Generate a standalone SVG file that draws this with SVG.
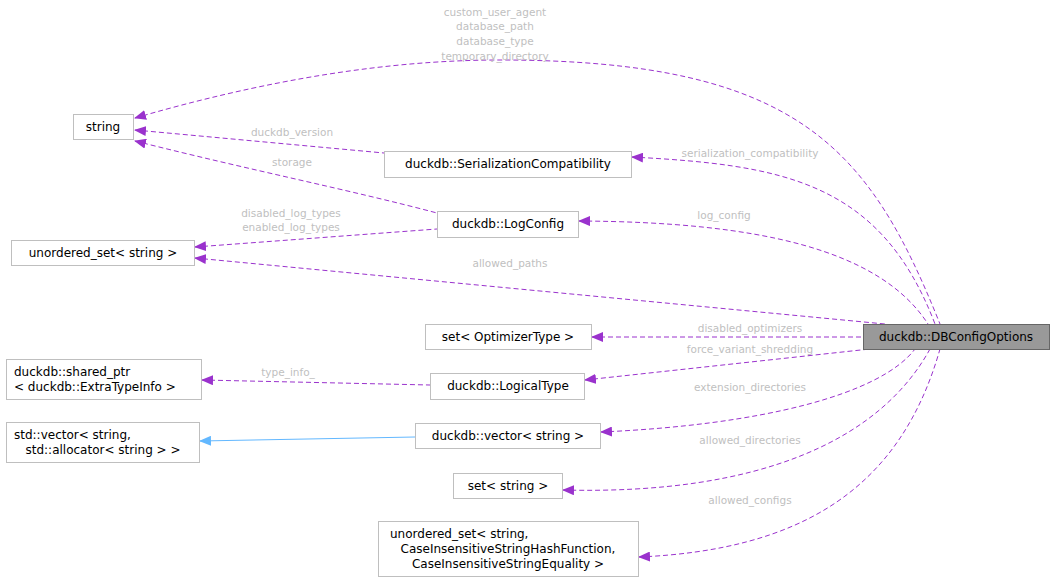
<svg xmlns="http://www.w3.org/2000/svg" width="1055" height="582" viewBox="0 0 1055 582">
<style>
.n rect{fill:#fff;stroke:#bfbfbf;stroke-width:1}
text{font-family:"DejaVu Sans","Liberation Sans",sans-serif;font-size:12px}
.n text{fill:#000;text-anchor:middle}
.l{fill:#bfbfbf;text-anchor:middle;font-size:12px}
.e{fill:none;stroke:#9a32cd;stroke-dasharray:5,3;marker-start:url(#a)}
.b{fill:none;stroke:#63b8ff;marker-start:url(#ab)}
</style>
<defs>
<marker id="a" markerWidth="12" markerHeight="10" refX="1" refY="5" orient="auto" markerUnits="userSpaceOnUse"><path d="M0,5 L12,0 L12,10 Z" fill="#9a32cd"/></marker>
<marker id="ab" markerWidth="12" markerHeight="10" refX="1" refY="5" orient="auto" markerUnits="userSpaceOnUse"><path d="M0,5 L12,0 L12,10 Z" fill="#63b8ff"/></marker>
</defs>
<rect width="1055" height="582" fill="#fff"/>
<g id="edges">
<path class="e" d="M135,118 C300,70 420,60 500,60 C800,60 870,150 940,324"/>
<path class="e" d="M135,130 L384,153"/>
<path class="e" d="M135,141 C250,170 350,190 437,213"/>
<path class="e" d="M195,247 L437,229"/>
<path class="e" d="M632,157 C780,165 880,180 935,324"/>
<path class="e" d="M579,221 C760,222 880,250 928,324"/>
<path class="e" d="M195,258 L885,324"/>
<path class="e" d="M592,337 L863,337"/>
<path class="e" d="M585,380 L870,349"/>
<path class="e" d="M202,380 L430,385"/>
<path class="b" d="M200,441 L415,437"/>
<path class="e" d="M601,432 C760,425 880,395 915,349"/>
<path class="e" d="M563,490 C760,495 880,440 930,349"/>
<path class="e" d="M639,557 C800,550 900,490 940,349"/>
<g style="font-size:10.5px">
<text class="l" x="495" y="16" style="font-size:10.5px">custom_user_agent</text>
<text class="l" x="495" y="30" style="font-size:10.5px">database_path</text>
<text class="l" x="495" y="45" style="font-size:10.5px">database_type</text>
<text class="l" x="495" y="60" style="font-size:10.5px">temporary_directory</text>
<text class="l" x="292" y="136" style="font-size:10.5px">duckdb_version</text>
<text class="l" x="292" y="166" style="font-size:10.5px">storage</text>
<text class="l" x="291" y="217" style="font-size:10.5px">disabled_log_types</text>
<text class="l" x="291" y="231" style="font-size:10.5px">enabled_log_types</text>
<text class="l" x="750" y="157" style="font-size:10.5px">serialization_compatibility</text>
<text class="l" x="724" y="219" style="font-size:10.5px">log_config</text>
<text class="l" x="510" y="267" style="font-size:10.5px">allowed_paths</text>
<text class="l" x="750" y="332" style="font-size:10.5px">disabled_optimizers</text>
<text class="l" x="750" y="353" style="font-size:10.5px">force_variant_shredding</text>
<text class="l" x="288" y="376" style="font-size:10.5px">type_info_</text>
<text class="l" x="750" y="391" style="font-size:10.5px">extension_directories</text>
<text class="l" x="750" y="444" style="font-size:10.5px">allowed_directories</text>
<text class="l" x="750" y="504" style="font-size:10.5px">allowed_configs</text>
</g>
</g>
<g id="string" class="n"><rect x="73.5" y="114.5" width="60" height="25"/><text x="103" y="131">string</text></g>
<g id="sercompat" class="n"><rect x="384.5" y="151.5" width="247" height="26"/><text x="508" y="168">duckdb::SerializationCompatibility</text></g>
<g id="logconfig" class="n"><rect x="437.5" y="211.5" width="141" height="26"/><text x="508" y="228">duckdb::LogConfig</text></g>
<g id="uset" class="n"><rect x="11.5" y="240.5" width="183" height="25"/><text x="103" y="257">unordered_set&lt; string &gt;</text></g>
<g id="setopt" class="n"><rect x="425.5" y="324.5" width="166" height="25"/><text x="508" y="341">set&lt; OptimizerType &gt;</text></g>
<g id="dbconfig" class="n"><rect x="863.5" y="324.5" width="186" height="25" style="fill:#999;stroke:#666"/><text x="956" y="341">duckdb::DBConfigOptions</text></g>
<g id="sharedptr" class="n"><rect x="6.5" y="359.5" width="195" height="40"/><text x="14" y="376" style="text-anchor:start">duckdb::shared_ptr</text><text x="14" y="391" style="text-anchor:start">&lt; duckdb::ExtraTypeInfo &gt;</text></g>
<g id="logicaltype" class="n"><rect x="430.5" y="373.5" width="154" height="26"/><text x="508" y="390">duckdb::LogicalType</text></g>
<g id="stdvector" class="n"><rect x="6.5" y="422.5" width="193" height="40"/><text x="14" y="439" style="text-anchor:start">std::vector&lt; string,</text><text x="103" y="454">std::allocator&lt; string &gt; &gt;</text></g>
<g id="dvector" class="n"><rect x="415.5" y="423.5" width="185" height="25"/><text x="508" y="440">duckdb::vector&lt; string &gt;</text></g>
<g id="setstr" class="n"><rect x="453.5" y="473.5" width="109" height="25"/><text x="508" y="490">set&lt; string &gt;</text></g>
<g id="usetci" class="n"><rect x="378.5" y="521.5" width="260" height="55"/><text x="390" y="538" style="text-anchor:start">unordered_set&lt; string,</text><text x="508" y="553">CaseInsensitiveStringHashFunction,</text><text x="508" y="568">CaseInsensitiveStringEquality &gt;</text></g>
</svg>
